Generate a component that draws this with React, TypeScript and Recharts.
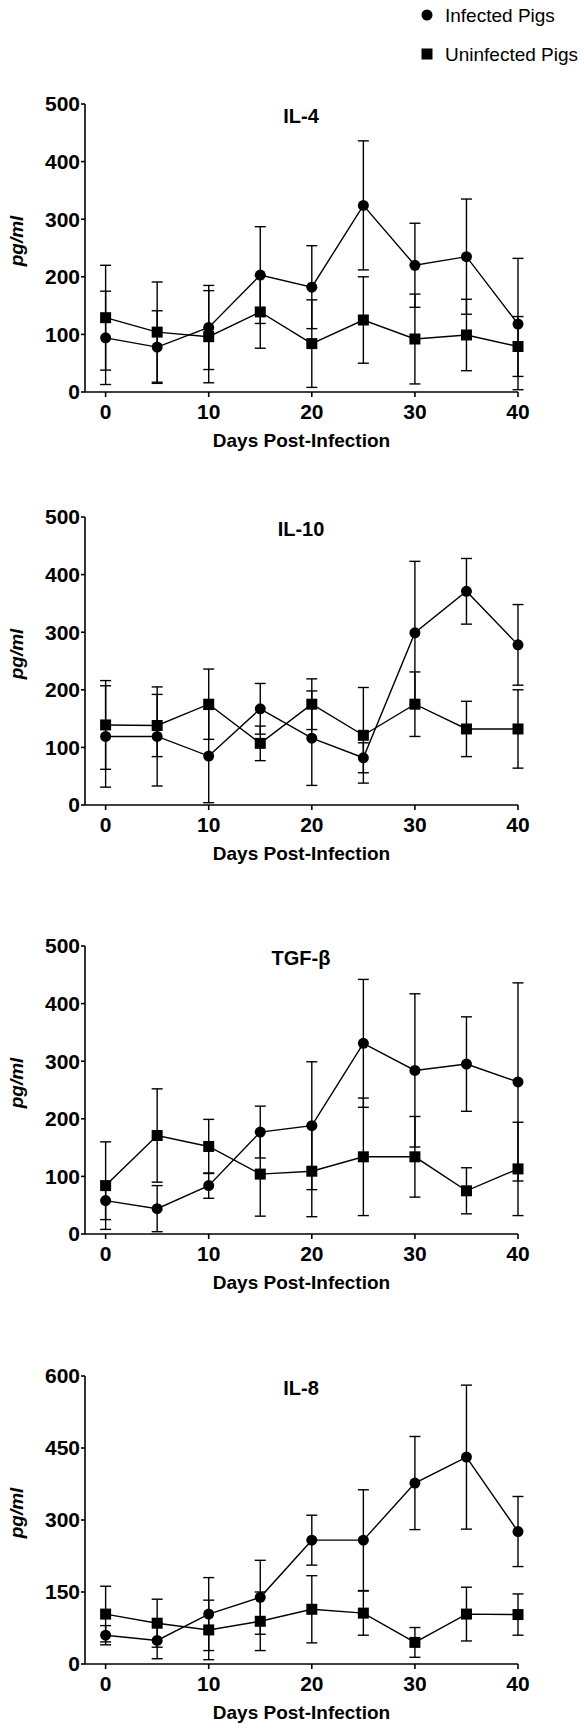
import { LineChart, Line, XAxis, YAxis, ErrorBar } from "recharts";

// x values (days post-infection)
const days = [0, 5, 10, 15, 20, 25, 30, 35, 40];

// IL-4
const il4Infected = [94, 78, 112, 203, 182, 324, 220, 235, 118];
const il4InfectedErr = [81, 63, 73, 84, 72, 112, 73, 100, 114];
const il4Uninfected = [129, 104, 96, 139, 84, 125, 92, 99, 79];
const il4UninfectedErr = [91, 87, 80, 63, 76, 75, 78, 62, 52];

// IL-10
const il10Infected = [119, 119, 85, 167, 116, 82, 299, 371, 278];
const il10InfectedErr = [88, 86, 81, 44, 82, 26, 124, 57, 70];
const il10Uninfected = [139, 138, 175, 107, 175, 121, 175, 132, 132];
const il10UninfectedErr = [77, 54, 61, 30, 44, 83, 56, 48, 68];

// TGF-beta
const tgfInfected = [58, 44, 84, 177, 188, 331, 284, 295, 264];
const tgfInfectedErr = [33, 40, 22, 45, 111, 111, 133, 82, 172];
const tgfUninfected = [84, 171, 152, 104, 109, 134, 134, 75, 113];
const tgfUninfectedErr = [76, 81, 47, 73, 79, 102, 70, 40, 81];

// IL-8
const il8Infected = [60, 49, 104, 139, 258, 258, 377, 431, 276];
const il8InfectedErr = [20, 38, 76, 77, 52, 105, 97, 150, 73];
const il8Uninfected = [104, 85, 71, 89, 114, 106, 45, 104, 103];
const il8UninfectedErr = [58, 50, 62, 61, 70, 46, 31, 56, 43];

const xTicks = [0, 10, 20, 30, 40];
const yTicks500 = [0, 100, 200, 300, 400, 500];
const yTicks600 = [0, 150, 300, 450, 600];

const FONT = '"Liberation Sans", Arial, Helvetica, sans-serif';
const PLOT_H = 288;
const TOP_PAD = 40;
const X_AXIS_H = 62;
const Y_AXIS_W = 85;
const RIGHT_PAD = 66;

const panels = [
  { title: "IL-4", plotTop: 104, yTicks: yTicks500, inf: il4Infected, infErr: il4InfectedErr, un: il4Uninfected, unErr: il4UninfectedErr },
  { title: "IL-10", plotTop: 517, yTicks: yTicks500, inf: il10Infected, infErr: il10InfectedErr, un: il10Uninfected, unErr: il10UninfectedErr },
  { title: "TGF-β", plotTop: 946, yTicks: yTicks500, inf: tgfInfected, infErr: tgfInfectedErr, un: tgfUninfected, unErr: tgfUninfectedErr },
  { title: "IL-8", plotTop: 1376, yTicks: yTicks600, inf: il8Infected, infErr: il8InfectedErr, un: il8Uninfected, unErr: il8UninfectedErr },
];

const renderSquare = (p: any) => {
  if (p.cx == null || p.cy == null) return <g key={p.key} />;
  return <rect key={p.key} x={p.cx - 5.5} y={p.cy - 5.5} width={11} height={11} fill="#000" />;
};

const tickStyle = { fill: "#000", fontSize: 21, fontWeight: 700, fontFamily: FONT };

function Panel({ panel }: { panel: (typeof panels)[number] }) {
  const data = days.map((d, i) => ({
    day: d,
    inf: panel.inf[i],
    infErr: panel.infErr[i],
    un: panel.un[i],
    unErr: panel.unErr[i],
  }));
  const yMax = panel.yTicks[panel.yTicks.length - 1];
  const chartTop = panel.plotTop - TOP_PAD;

  return (
    <>
      <div style={{ position: "absolute", left: 0, top: chartTop }}>
        <LineChart
          width={584}
          height={TOP_PAD + PLOT_H + X_AXIS_H}
          data={data}
          margin={{ top: TOP_PAD, right: RIGHT_PAD, bottom: 0, left: 0 }}
        >
          <XAxis
            dataKey="day"
            type="number"
            domain={[-2, 40]}
            ticks={xTicks}
            interval={0}
            height={X_AXIS_H}
            tickSize={5}
            tickMargin={7}
            tick={tickStyle}
            axisLine={{ stroke: "#000", strokeWidth: 1.6 }}
            tickLine={{ stroke: "#000", strokeWidth: 1.6 }}
            label={{
              value: "Days Post-Infection",
              position: "insideBottom",
              offset: 7,
              style: { fill: "#000", fontSize: 19, fontWeight: 700, fontFamily: FONT },
            }}
          />
          <YAxis
            type="number"
            domain={[0, yMax]}
            ticks={panel.yTicks}
            interval={0}
            width={Y_AXIS_W}
            tickSize={4}
            tickMargin={1}
            tick={tickStyle}
            axisLine={{ stroke: "#000", strokeWidth: 1.6 }}
            tickLine={{ stroke: "#000", strokeWidth: 1.6 }}
          />
          <Line
            dataKey="inf"
            stroke="#000"
            strokeWidth={1.4}
            dot={{ r: 5.5, fill: "#000", stroke: "#000", strokeWidth: 0 }}
            activeDot={false}
            isAnimationActive={false}
          >
            <ErrorBar dataKey="infErr" width={5.5} stroke="#000" strokeWidth={1.4} direction="y" isAnimationActive={false} />
          </Line>
          <Line
            dataKey="un"
            stroke="#000"
            strokeWidth={1.4}
            dot={renderSquare}
            activeDot={false}
            isAnimationActive={false}
          >
            <ErrorBar dataKey="unErr" width={5.5} stroke="#000" strokeWidth={1.4} direction="y" isAnimationActive={false} />
          </Line>
        </LineChart>
      </div>
      {/* panel title */}
      <div
        style={{
          position: "absolute",
          left: 201,
          width: 200,
          top: panel.plotTop + 12 - 11,
          height: 22,
          lineHeight: "22px",
          textAlign: "center",
          fontFamily: FONT,
          fontWeight: 700,
          fontSize: 20,
        }}
      >
        {panel.title}
      </div>
      {/* y axis label */}
      <div
        style={{
          position: "absolute",
          left: 17,
          top: panel.plotTop + PLOT_H / 2 - 7,
          transform: "translate(-50%, -50%) rotate(-90deg)",
          whiteSpace: "nowrap",
          fontFamily: FONT,
          fontWeight: 700,
          fontStyle: "italic",
          fontSize: 19,
          lineHeight: "20px",
        }}
      >
        pg/ml
      </div>
    </>
  );
}

export default function App() {
  return (
    <div style={{ position: "absolute", left: 0, top: 0, width: 584, height: 1730, background: "#fff", overflow: "hidden" }}>
      {/* legend */}
      <svg style={{ position: "absolute", left: 0, top: 0 }} width={584} height={70}>
        <circle cx={427} cy={15} r={5.5} fill="#000" />
        <rect x={421.5} y={48.5} width={11} height={11} fill="#000" />
        <text x={445} y={15} dominantBaseline="central" fontFamily={FONT} fontSize={19} fill="#000">
          Infected Pigs
        </text>
        <text x={445} y={54} dominantBaseline="central" fontFamily={FONT} fontSize={19} fill="#000">
          Uninfected Pigs
        </text>
      </svg>
      {panels.map((p) => (
        <Panel key={p.title} panel={p} />
      ))}
    </div>
  );
}
